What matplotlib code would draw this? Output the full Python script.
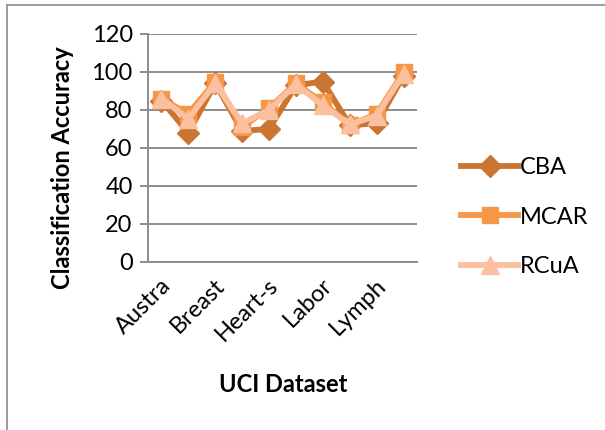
import matplotlib
matplotlib.use("Agg")
import matplotlib.pyplot as plt
from matplotlib.transforms import ScaledTranslation

categories = ["Austra", "Balance", "Breast", "Cleve", "Heart-s",
              "Iris", "Labor", "Led7", "Lymph", "Zoo"]
shown_labels = ["Austra", "", "Breast", "", "Heart-s", "", "Labor", "", "Lymph", ""]
cba = [85, 68, 94, 69, 70, 93, 95, 72, 73, 98]
mcar = [86, 78, 95, 71, 81, 94, 84, 72, 78, 100]
rcua = [86, 75.5, 94, 73, 80, 93.5, 82.5, 72.5, 77, 99]
yticks = [0, 20, 40, 60, 80, 100, 120]

plt.rcParams['font.family'] = ['Lato', 'DejaVu Sans']
FS = 17

W, H = 605, 430
fig = plt.figure(figsize=(W / 100, H / 100), dpi=100)
ax = fig.add_axes([148 / W, 1 - 262 / H, (417 - 148) / W, (262 - 34) / H])

x = list(range(len(categories)))
ax.plot(x, cba, color="#CB7532", lw=4.2, marker="D", ms=11, label="CBA", zorder=3)
ax.plot(x, mcar, color="#F79646", lw=4.2, marker="s", ms=12, label="MCAR", zorder=4)
ax.plot(x, rcua, color="#FAC0A0", lw=4.2, marker="^", ms=13, label="RCuA", zorder=5)

ax.set_xlim(-0.5, len(categories) - 0.5)
ax.set_ylim(0, 120)
ax.set_yticks(yticks)
ax.set_yticklabels([str(v) for v in yticks], fontsize=FS)
ax.yaxis.grid(True, color="#8C8C8C", lw=1.4)
ax.set_axisbelow(True)
ax.tick_params(axis='y', length=6, width=1.4, color="#8C8C8C", pad=5)
ax.tick_params(axis='x', length=0, pad=9)
ax.set_xticks(x)
ax.set_xticklabels(shown_labels, rotation=45, ha='right', va='top',
                   rotation_mode='anchor', fontsize=FS)
off = ScaledTranslation(-1 / 72, 0, fig.dpi_scale_trans)
for lbl in ax.get_xticklabels():
    lbl.set_transform(lbl.get_transform() + off)
for s in ["top", "right"]:
    ax.spines[s].set_visible(False)
ax.spines["left"].set_color("#8C8C8C")
ax.spines["left"].set_linewidth(1.4)
ax.spines["bottom"].set_color("#8C8C8C")
ax.spines["bottom"].set_linewidth(1.4)

fig.text(62 / W, 1 - 168 / H, "Classification Accuracy", rotation=90,
         ha='center', va='center', fontsize=FS, fontweight='bold')
fig.text(283 / W, 1 - 384 / H, "UCI Dataset", ha='center', va='center',
         fontsize=FS, fontweight='bold')

leg = fig.legend(loc='center left', bbox_to_anchor=(440 / W, 1 - 217 / H),
                 frameon=False, fontsize=FS, handlelength=2.4,
                 handletextpad=0.1, labelspacing=1.2)

# outer chart border (left and top visible)
fig.add_artist(plt.Line2D([7 / W, 7 / W], [0, 1 - 5 / H], transform=fig.transFigure,
                          color="#8C8C8C", lw=1.2))
fig.add_artist(plt.Line2D([7 / W, 1], [1 - 5 / H, 1 - 5 / H], transform=fig.transFigure,
                          color="#8C8C8C", lw=1.2))

fig.savefig("out.png", dpi=100)
